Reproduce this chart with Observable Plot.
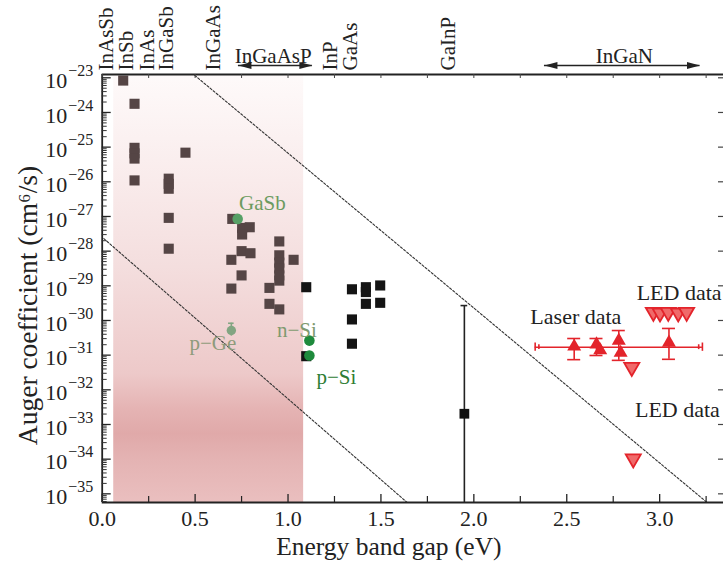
<!DOCTYPE html>
<html><head><meta charset="utf-8">
<script src="https://cdn.jsdelivr.net/npm/d3@7"></script>
<script src="https://cdn.jsdelivr.net/npm/@observablehq/plot@0.6"></script>
<style>html,body{margin:0;padding:0;background:#fff;overflow:hidden}svg{display:block}</style>
</head><body><div id="chart"></div>
<script>
// ---------- data ----------
const squareGap  = [0.113,0.174,0.174,0.174,0.174,0.448,0.174,0.358,0.358,0.358,0.358,0.358,
  0.700,0.753,0.794,0.753,0.953,0.750,0.798,0.695,0.953,0.953,0.953,0.953,0.953,1.030,0.750,0.695,
  0.900,0.900,0.953,1.098,1.098,1.344,1.419,1.419,1.496,1.419,1.496,1.344,1.344];
const squareLogC = [-23.08,-23.75,-25.02,-25.18,-25.33,-25.16,-25.96,-25.91,-26.06,-26.20,-27.04,-27.93,
  -27.07,-27.33,-27.31,-27.52,-27.72,-28.00,-28.06,-28.25,-28.12,-28.33,-28.50,-28.70,-28.85,-28.25,-28.70,-29.08,
  -29.06,-29.52,-29.68,-29.04,-31.03,-29.10,-29.04,-29.18,-28.99,-29.52,-29.49,-29.97,-30.67];

const gaInPGap = 1.949, gaInPLogC = -32.69, gaInPErrHi = -29.57, gaInPErrLo = -36;

const greenName = ["GaSb","p−Ge","n−Si","p−Si"];
const greenGap  = [0.729, 0.695, 1.115, 1.115];
const greenLogC = [-27.07, -30.29, -30.58, -31.01];
const greenLabelGap  = [0.862, 0.596, 1.048, 1.26];
const greenLabelLogC = [-26.63, -30.67, -30.29, -31.63];
const pGeErr = [-30.08, -30.45];

const laserRange = [2.33, 3.23], laserLineLogC = -30.77;
const laserGap  = [2.54, 2.66, 2.68, 2.78, 2.79, 3.05];
const laserLogC = [-30.75, -30.69, -30.86, -30.58, -30.93, -30.64];
const laserErrGap = [2.54, 2.66, 2.78, 3.05];
const laserErrHi  = [-30.52, -30.52, -30.29, -30.23];
const laserErrLo  = [-31.13, -31.01, -31.15, -31.12];

const ledGap  = [2.966, 3.002, 3.046, 3.100, 3.145, 2.85, 2.858];
const ledLogC = [-29.76, -29.78, -29.76, -29.78, -29.76, -31.35, -33.99];

const annoText = ["Laser data", "LED data", "LED data"];
const annoGap  = [2.549, 2.876, 2.867];
const annoLogC = [-29.90, -29.22, -32.59];

const upperLineGap = [0.498, 3.253], upperLineLogC = [-22.93, -35.24];
const lowerLineGap = [0.009, 1.641], lowerLineLogC = [-27.64, -35.25];

const siliconBand = [0.062, 1.084];

const topRotNames = ["InAsSb","InSb","InAs","InGaSb","InGaAs","InP","GaAs","GaInP"];
const topRotGap   = [0.023, 0.13, 0.24, 0.344, 0.60, 1.227, 1.335, 1.862];
const topSpanNames = ["InGaAsP", "InGaN"];
const topSpanFrom  = [0.733, 2.38];
const topSpanTo    = [1.131, 3.217];
const topSpanMid   = [0.92, 2.81];

const xMajorTicks = [0, 0.5, 1.0, 1.5, 2.0, 2.5, 3.0];
const xTickLabels = ["0.0","0.5","1.0","1.5","2.0","2.5","3.0"];
const xMinorTicks = [0.25, 0.75, 1.25, 1.75, 2.25, 2.75, 3.25];
const yTickExps = [-23,-24,-25,-26,-27,-28,-29,-30,-31,-32,-33,-34,-35];

// ---------- layout ----------
const W = 723, H = 576, mL = 101.7, mT = 74, mR = 0, mB = 74;
const fW = W - mL - mR, fH = H - mT - mB;
const xDomain = [0, 3.3435];
const yDomain = [10 ** -35.25, 10 ** -22.905];
const FONT = "Liberation Serif";
const RED = "#e3242b";

// ---------- tables ----------
const squares = squareGap.map((g, i) => ({gap: g, C: 10 ** squareLogC[i]}));
const greens = greenName.map((n, i) => ({name: n, gap: greenGap[i], C: 10 ** greenLogC[i],
  lgap: greenLabelGap[i], lC: 10 ** greenLabelLogC[i]}));
const lasers = laserGap.map((g, i) => ({gap: g, C: 10 ** laserLogC[i]}));
const laserErr = laserErrGap.map((g, i) => ({gap: g, hi: 10 ** laserErrHi[i], lo: 10 ** laserErrLo[i]}));
const leds = ledGap.map((g, i) => ({gap: g, C: 10 ** ledLogC[i]}));
const annos = annoText.map((t, i) => ({text: t, gap: annoGap[i], C: 10 ** annoLogC[i]}));
const upperLine = upperLineGap.map((g, i) => ({gap: g, C: 10 ** upperLineLogC[i]}));
const lowerLine = lowerLineGap.map((g, i) => ({gap: g, C: 10 ** lowerLineLogC[i]}));
const topRot = topRotNames.map((n, i) => ({name: n, gap: topRotGap[i]}));
const topSpan = topSpanNames.map((n, i) => ({name: n, from: topSpanFrom[i], to: topSpanTo[i], mid: topSpanMid[i]}));
const minorY = [];
for (let e = -36; e <= -23; e++) for (let k = 2; k <= 9; k++) {
  const v = k * 10 ** e; if (v > yDomain[0] && v < yDomain[1]) minorY.push(v);
}
const bandEnd = siliconBand[1];
const arrowY = 10 ** -22.645;
const colGreenDot = {"GaSb": "#56a066", "p−Ge": "#82a582", "n−Si": "#1e8a3c", "p−Si": "#1e8a3c"};
const colGreenTxt = {"GaSb": "#6c9b60", "p−Ge": "#8e9b7b", "n−Si": "#7f9a70", "p−Si": "#2e7d34"};
const arrowHead = {draw(ctx) { ctx.moveTo(0, 0); ctx.lineTo(-13, -3.6); ctx.lineTo(-13, 3.6); ctx.closePath(); }};

const defs = () => {
  const d = d3.create("svg:defs");
  const g = d.append("linearGradient").attr("id", "bandGrad").attr("x1", 0).attr("y1", 0).attr("x2", 0).attr("y2", 1);
  [[0, "#fefafa"], [0.25, "#f9ebeb"], [0.45, "#f4dede"], [0.70, "#edc9c9"], [0.78, "#e5b4b4"],
   [0.84, "#e0a9a9"], [0.90, "#e4b3b3"], [1, "#eabfbf"]].forEach(([o, c]) =>
    g.append("stop").attr("offset", o).attr("stop-color", c));
  return d.node();
};

const chart = Plot.plot({
  width: W, height: H, marginLeft: mL, marginTop: mT, marginRight: mR, marginBottom: mB,
  x: {type: "linear", domain: xDomain, axis: null},
  y: {type: "log", domain: yDomain, axis: null},
  style: {fontFamily: FONT, background: "#fff"},
  marks: [
    defs,
    Plot.rect([siliconBand], {x1: d => d[0], x2: d => d[1], y1: yDomain[0], y2: yDomain[1], fill: "url(#bandGrad)"}),
    Plot.line(upperLine, {x: "gap", y: "C", stroke: "#333", strokeWidth: 1.1, strokeDasharray: "2.2,1.8", clip: true}),
    Plot.line(lowerLine, {x: "gap", y: "C", stroke: "#333", strokeWidth: 1.1, strokeDasharray: "2.2,1.8", clip: true}),
    // GaInP with error bar
    Plot.ruleX([gaInPGap], {x: d => d, y1: 10 ** gaInPErrHi, y2: 10 ** gaInPErrLo, stroke: "#222", strokeWidth: 1.6, clip: true}),
    Plot.ruleY([gaInPGap], {x1: d => d - 0.018, x2: d => d + 0.018, y: 10 ** gaInPErrHi, stroke: "#222", strokeWidth: 1.6}),
    Plot.dot([gaInPGap], {x: d => d, y: 10 ** gaInPLogC, symbol: "square", r: 5.5, fill: "#111"}),
    // squares
    Plot.dot(squares, {x: "gap", y: "C", symbol: "square", r: 5.7, fill: d => d.gap < bandEnd ? "#554545" : "#141414"}),
    // green points
    Plot.ruleX([pGeErr], {x: greenGap[1], y1: d => 10 ** d[0], y2: d => 10 ** d[1], stroke: "#82a582", strokeWidth: 1.6}),
    Plot.ruleY([pGeErr], {x1: greenGap[1] - 0.015, x2: greenGap[1] + 0.015, y: d => 10 ** d[0], stroke: "#82a582", strokeWidth: 1.6}),
    Plot.dot(greens.filter(d => d.name !== "p−Ge"), {x: "gap", y: "C", r: 5.3, fill: d => colGreenDot[d.name]}),
    Plot.dot(greens.filter(d => d.name === "p−Ge"), {x: "gap", y: "C", r: 4.7, fill: d => colGreenDot[d.name]}),
    Plot.text(greens, {x: "lgap", y: "lC", text: "name", fill: d => colGreenTxt[d.name], fontSize: 21}),
    // laser data
    Plot.ruleY([laserRange], {x1: d => d[0], x2: d => d[1], y: 10 ** laserLineLogC, stroke: RED, strokeWidth: 1.6}),
    Plot.ruleX(laserRange, {x: d => d, y1: 10 ** (laserLineLogC + 0.12), y2: 10 ** (laserLineLogC - 0.12), stroke: RED, strokeWidth: 1.6}),
    Plot.ruleX(laserRange, {x: (d, i) => d + (i === 0 ? 0.02 : -0.02), y1: 10 ** (laserLineLogC + 0.07), y2: 10 ** (laserLineLogC - 0.07), stroke: RED, strokeWidth: 1.6}),
    Plot.ruleX(laserErr, {x: "gap", y1: "lo", y2: "hi", stroke: RED, strokeWidth: 1.6}),
    Plot.ruleY(laserErr, {x1: d => d.gap - 0.035, x2: d => d.gap + 0.035, y: "hi", stroke: RED, strokeWidth: 1.6}),
    Plot.ruleY(laserErr, {x1: d => d.gap - 0.035, x2: d => d.gap + 0.035, y: "lo", stroke: RED, strokeWidth: 1.6}),
    Plot.dot(lasers, {x: "gap", y: "C", symbol: "triangle", r: 5.2, fill: RED}),
    Plot.dot(leds, {x: "gap", y: "C", symbol: "triangle", rotate: 180, r: 5.6, fill: "#f06a6a", stroke: RED, strokeWidth: 1.8}),
    Plot.text(annos.slice(0, 1), {x: "gap", y: "C", text: "text", textAnchor: "middle", fontSize: 22, fill: "#222"}),
    Plot.text(annos.slice(1), {x: "gap", y: "C", text: "text", textAnchor: "start", fontSize: 22, fill: "#222"}),
    // frame lines
    Plot.ruleX([xDomain[0]], {stroke: "#222", strokeWidth: 1.8}),
    Plot.ruleY([yDomain[0]], {stroke: "#222", strokeWidth: 1.8}),
    Plot.ruleY([yDomain[1]], {stroke: "#222", strokeWidth: 1.8}),
    // ticks
    Plot.tickX(xMajorTicks, {x: d => d, insetTop: fH - 8, stroke: "#222", strokeWidth: 1.3}),
    Plot.tickX(xMinorTicks, {x: d => d, insetTop: fH - 6, stroke: "#222", strokeWidth: 1.2}),
    Plot.tickX(xMajorTicks.concat(xMinorTicks), {x: d => d, insetBottom: fH - 4, stroke: "#444", strokeWidth: 1}),
    Plot.tickY(yTickExps, {y: d => 10 ** d, insetRight: fW - 9, stroke: "#222", strokeWidth: 1.3}),
    Plot.tickY(minorY, {y: d => d, insetRight: fW - 5, stroke: "#333", strokeWidth: 1}),
    Plot.tickY(yTickExps, {y: d => 10 ** d, insetLeft: fW - 5, stroke: "#444", strokeWidth: 1.2}),
    // tick labels
    Plot.text(xMajorTicks, {x: d => d, text: (d, i) => xTickLabels[i], frameAnchor: "bottom", textAnchor: "middle", dy: 23, fontSize: 22, fill: "#222"}),
    Plot.text(yTickExps, {y: d => 10 ** d, text: () => "10", frameAnchor: "left", textAnchor: "end", dx: -35, dy: 3, fontSize: 22, fill: "#222"}),
    Plot.text(yTickExps, {y: d => 10 ** d, text: d => "−" + Math.abs(d), frameAnchor: "left", textAnchor: "start", dx: -34, dy: -7, fontSize: 16, fill: "#222"}),
    // axis titles
    Plot.text(["Energy band gap (eV)"], {frameAnchor: "bottom", textAnchor: "middle", dx: -24, dy: 52, fontSize: 25.5, fill: "#222"}),
    Plot.text(["Auger coefficient (cm⁶/s)"], {frameAnchor: "left", textAnchor: "middle", rotate: -90, dx: -74, dy: 17, fontSize: 27.5, fill: "#222"}),
    // top material labels
    Plot.text(topRot, {x: "gap", text: "name", frameAnchor: "top", rotate: -90, textAnchor: "start", lineAnchor: "middle", dy: -4, fontSize: 21, fill: "#222"}),
    Plot.text(topSpan, {x: "mid", text: "name", frameAnchor: "top", textAnchor: "middle", dy: -26, fontSize: 21, fill: "#222"}),
    Plot.ruleY(topSpan, {x1: "from", x2: "to", y: arrowY, stroke: "#222", strokeWidth: 1.3}),
    Plot.dot(topSpan, {x: "to", y: arrowY, symbol: arrowHead, fill: "#222", stroke: "none"}),
    Plot.dot(topSpan, {x: "from", y: arrowY, symbol: arrowHead, rotate: 180, fill: "#222", stroke: "none"})
  ]
});
document.getElementById("chart").appendChild(chart);
</script>
</body></html>
